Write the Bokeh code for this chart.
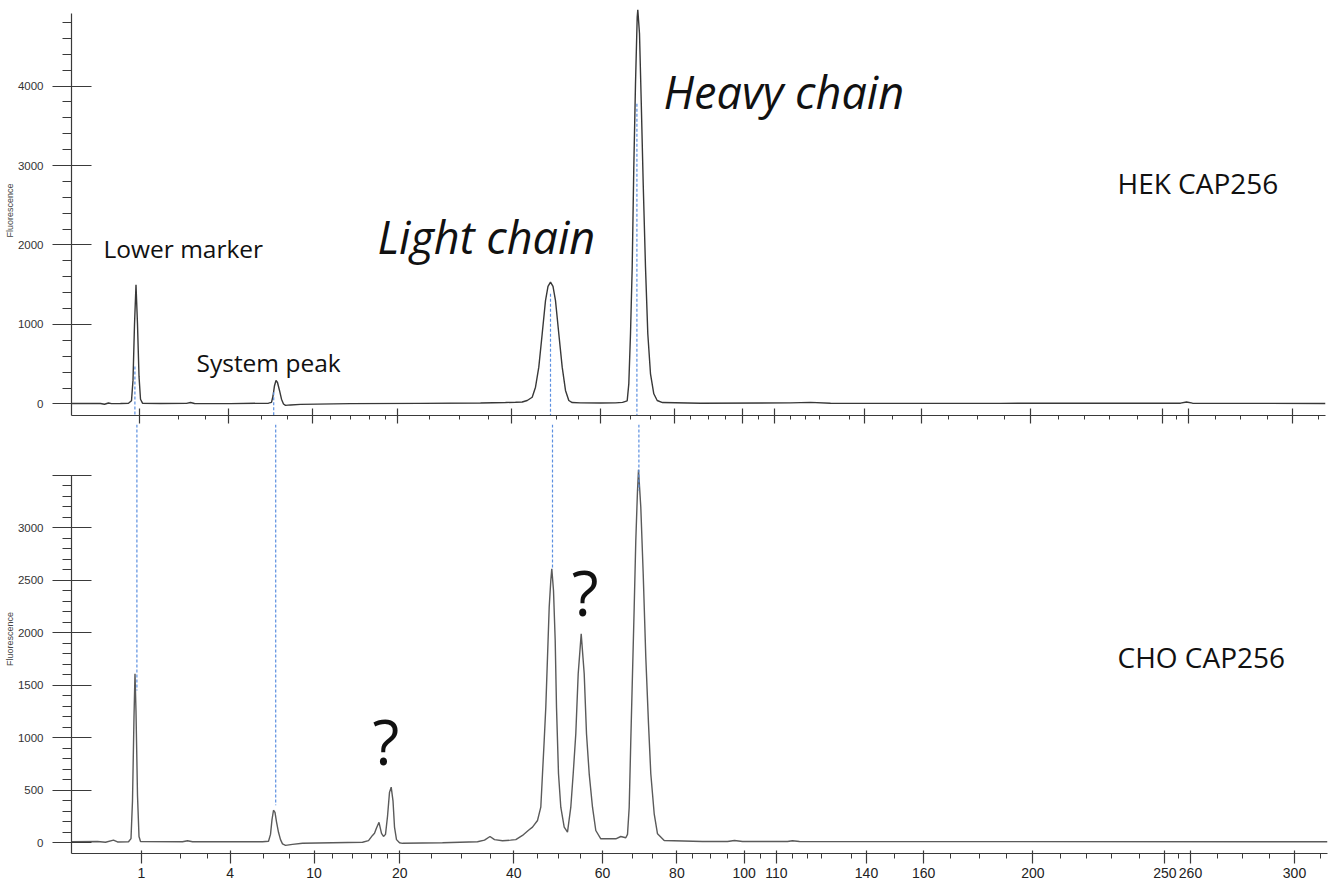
from bokeh.plotting import figure
from bokeh.layouts import column
from bokeh.models import FixedTicker, Label, Range1d
from bokeh.embed import file_html
from bokeh.resources import INLINE

# ---------------- data ----------------
# size ladder: migration time (s) -> size label (kDa)
ladder_kda = ["1", "4", "10", "20", "40", "60", "80", "100", "110", "140",
              "160", "200", "250", "260", "300"]
ladder_time = [15.725, 17.94, 20.04, 22.18, 25.03, 27.25, 29.11, 30.79, 31.60,
               33.85, 35.28, 38.01, 41.31, 41.95, 44.55]
ladder_minor_time = [16.69, 17.38, 18.77, 19.43, 20.50, 21.0, 21.48, 21.88, 22.98,
                     23.73, 24.45, 25.62, 26.15, 26.70, 28.0, 28.5, 29.5, 29.95,
                     30.38, 31.19, 31.99, 32.38, 32.72, 33.47, 34.56, 35.95, 36.67,
                     37.35, 38.69, 39.35, 39.98, 40.67, 41.65, 42.63, 43.25, 43.93,
                     45.19]

# HEK CAP256 electropherogram (time s, fluorescence)
hek_time = [14.0, 14.5, 14.75, 14.85, 14.95, 15.025, 15.25, 15.45, 15.525, 15.5625,
            15.6, 15.6375, 15.675, 15.7125, 15.75, 15.8, 16.25, 16.9, 17.0, 17.1,
            18.0, 18.95, 19.025, 19.0625, 19.1, 19.1375, 19.175, 19.225, 19.275,
            19.325, 19.375, 19.5, 19.75, 21.0, 22.75, 24.25, 24.875, 25.125,
            25.2925, 25.4175, 25.5425, 25.625, 25.7075, 25.7925, 25.875, 25.9375,
            26.0, 26.0625, 26.125, 26.2075, 26.2925, 26.375, 26.4575, 26.5425,
            26.75, 27.25, 27.625, 27.8, 27.9175, 27.9575, 28.0, 28.0425, 28.0825,
            28.125, 28.1675, 28.1825, 28.225, 28.2675, 28.3175, 28.375, 28.4325,
            28.5, 28.5825, 28.6675, 28.8, 29.75, 32.0, 32.5, 33.0, 37.25, 41.75,
            41.9, 42.05, 45.375]
hek_fluor = [5, 8, 6, -3, 12, 4, 6, 10, 40, 300,
             1000, 1500, 1000, 350, 60, 10, 6, 8, 18, 6,
             5, 10, 20, 100, 230, 295, 270, 170, 60,
             0, -18, -12, -5, 5, 8, 12, 18, 22,
             25, 44, 85, 211, 463, 883, 1300, 1480,
             1532, 1480, 1300, 883, 463, 170, 44, 18,
             14, 12, 14, 20, 40, 253, 883, 1720, 2980,
             4030, 4865, 4960, 4660, 3820, 2770, 1720, 883,
             380, 128, 44, 18, 10, 14, 20, 10, 8, 10,
             25, 10, 6]

# CHO CAP256 electropherogram (time s, fluorescence)
cho_time = [13.975, 14.625, 14.825, 15.025, 15.125, 15.4, 15.4625, 15.5, 15.5375,
            15.5625, 15.5875, 15.625, 15.6625, 15.7, 16.75, 16.875, 17.0, 18.75,
            18.9, 18.95, 18.9875, 19.025, 19.0625, 19.1, 19.15, 19.2, 19.25, 19.325,
            19.5, 19.75, 20.5, 21.25, 21.4, 21.5, 21.55, 21.6, 21.6625, 21.725,
            21.775, 21.825, 21.875, 21.925, 21.9675, 22.0125, 22.05, 22.1, 22.175,
            22.25, 23.25, 24.125, 24.3, 24.4375, 24.55, 24.75, 24.95, 25.0825, 25.25,
            25.4, 25.5, 25.625, 25.7075, 25.75, 25.7925, 25.8325, 25.875, 25.9175,
            25.9575, 25.9825, 26.025, 26.0675, 26.1, 26.15, 26.2075, 26.2925, 26.375,
            26.4575, 26.5175, 26.5825, 26.6425, 26.7175, 26.7925, 26.85, 26.9175,
            27.0, 27.0825, 27.2075, 27.5825, 27.7075, 27.8325, 27.875, 27.9175,
            27.9575, 28.0, 28.0425, 28.0825, 28.125, 28.15, 28.2075, 28.2675,
            28.3325, 28.4, 28.4575, 28.5425, 28.625, 28.7925, 29.75, 30.375, 30.55,
            30.75, 31.875, 32.0, 32.175, 45.375]
cho_fluor = [10, 12, 5, 25, 8, 10, 40, 400, 1200,
             1610, 1250, 450, 60, 12, 10, 20, 10, 10,
             15, 80, 220, 310, 290, 200, 100, 30, -10, -25,
             -15, -5, 0, 5, 20, 70, 90, 140, 195, 90,
             60, 80, 250, 480, 530, 400, 150, 30, 0,
             -5, 0, 10, 25, 60, 30, 20, 25, 30, 70,
             120, 149, 212, 339, 657, 974, 1291, 1768, 2244,
             2498, 2610, 2403, 1927, 1291, 657, 339, 149, 101,
             339, 657, 1038, 1610, 1990, 1610, 1038, 657,
             339, 117, 38, 38, 60, 48, 80, 339,
             974, 1610, 2244, 2879, 3355, 3552, 3196, 2562,
             1768, 1133, 657, 276, 86, 22, 12, 12, 22,
             12, 12, 20, 12, 10]

# peaks linked between the two runs
peak_names = ["Lower marker", "System peak", "Light chain", "Heavy chain"]
peak_time = [15.61, 19.08, 26.0, 28.16]
hek_guide_top = [472, 148, 1386, 3776]
cho_guide_end = [1450, 357, 2600, 3355]

hek_ticks = [0, 1000, 2000, 3000, 4000]
hek_minor = [v for v in range(200, 5000, 200) if v % 1000]
cho_ticks = [0, 500, 1000, 1500, 2000, 2500, 3000, 3500]
cho_minor = [v for v in range(100, 3500, 100) if v % 500]

# ---------------- layout / style ----------------
HEK_Y = (-145, 5013)
CHO_Y = (-102, 3984)
AX = "#3a3a3a"
TXT = "#333333"
GUIDE = "#5b8fe0"
ANN_FONT = "Open Sans"


def base_fig(x0, fw, fh, yr, left, top_b, bottom_b):
    p = figure(frame_width=fw, frame_height=fh,
               x_range=Range1d(x0, 45.375), y_range=Range1d(*yr),
               output_backend="svg", toolbar_location=None,
               min_border_left=left, min_border_right=9,
               min_border_top=top_b, min_border_bottom=bottom_b)
    p.outline_line_color = None
    p.xgrid.visible = False
    p.ygrid.visible = False
    p.background_fill_color = "white"
    p.border_fill_color = "white"
    for ax in (p.xaxis[0], p.yaxis[0]):
        ax.axis_line_color = AX
        ax.major_tick_line_color = AX
        ax.minor_tick_line_color = AX
        ax.axis_line_width = 1.2
        ax.major_tick_line_width = 1.2
        ax.minor_tick_line_width = 1
    ya = p.yaxis[0]
    ya.major_tick_in = 20
    ya.major_tick_out = 19
    ya.minor_tick_in = 0
    ya.minor_tick_out = 9
    ya.major_label_standoff = 9
    ya.major_label_text_font = "Liberation Sans"
    ya.major_label_text_font_size = "11.5px"
    ya.major_label_text_color = TXT
    ya.axis_label = "Fluorescence"
    ya.axis_label_text_font = "Liberation Sans"
    ya.axis_label_text_font_size = "9px"
    ya.axis_label_text_font_style = "normal"
    ya.axis_label_text_color = "#444444"
    ya.axis_label_standoff = 0
    p.xaxis[0].ticker = FixedTicker(ticks=ladder_time, minor_ticks=ladder_minor_time)
    return p


def annotate(p, txt, x, y, size, style="normal"):
    # y is the text baseline; lift by the renderer's baseline offset
    p.add_layout(Label(x=x, y=y, text=txt, text_font=ANN_FONT,
                       text_font_size=f"{size}px", text_font_style=style,
                       text_color="#111111", text_baseline="alphabetic",
                       text_align="left", y_offset=round(0.4 * size)))


# ---- top: HEK ----
top = base_fig(14.025, 1254, 410, HEK_Y, 71, 5, 9)
top.yaxis[0].ticker = FixedTicker(ticks=hek_ticks, minor_ticks=hek_minor)
top.yaxis[0].bounds = (HEK_Y[0], 4910)
xa = top.xaxis[0]
xa.major_label_text_font_size = "1px"
xa.major_label_text_color = None
xa.major_label_standoff = 0
xa.major_tick_in = 7
xa.major_tick_out = 8
xa.minor_tick_in = 0
xa.minor_tick_out = 4

top.line(hek_time, hek_fluor, line_color="#383838", line_width=1.4)
top.segment(x0=peak_time, y0=hek_guide_top, x1=peak_time, y1=[HEK_Y[0]] * len(peak_time),
            line_color=GUIDE, line_dash="3 2", line_width=1.2)

annotate(top, "Lower marker", 14.825, 1830, 24.5)
annotate(top, "System peak", 17.15, 400, 24.5)
annotate(top, "Light chain", 21.675, 1880, 45, "italic")
annotate(top, "Heavy chain", 28.825, 3700, 45, "italic")
annotate(top, "HEK CAP256", 40.175, 2640, 28)

# ---- bottom: CHO ----
bot = base_fig(13.975, 1256, 429, CHO_Y, 69, 0, 33)
bot.yaxis[0].ticker = FixedTicker(ticks=cho_ticks, minor_ticks=cho_minor)
bot.yaxis[0].bounds = (CHO_Y[0], 3500)
bot.yaxis[0].major_label_overrides = {3500: ""}
xb = bot.xaxis[0]
xb.major_label_overrides = dict(zip(ladder_time, ladder_kda))
xb.major_label_text_font = "Liberation Sans"
xb.major_label_text_font_size = "14px"
xb.major_label_text_color = "#222222"
xb.major_label_standoff = 4
xb.major_tick_in = 3
xb.major_tick_out = 10
xb.minor_tick_in = 0
xb.minor_tick_out = 5

bot.line(cho_time, cho_fluor, line_color="#5a5a5a", line_width=1.4)
bot.segment(x0=peak_time, y0=[CHO_Y[1]] * len(peak_time), x1=peak_time, y1=cho_guide_end,
            line_color=GUIDE, line_dash="3 2", line_width=1.2)

annotate(bot, "CHO CAP256", 40.125, 1665, 28)
annotate(bot, "?", 26.48, 2146, 62)
annotate(bot, "?", 21.5, 736, 62)

layout = column(top, bot, spacing=0)
open("out.html", "w").write(file_html(layout, INLINE))
